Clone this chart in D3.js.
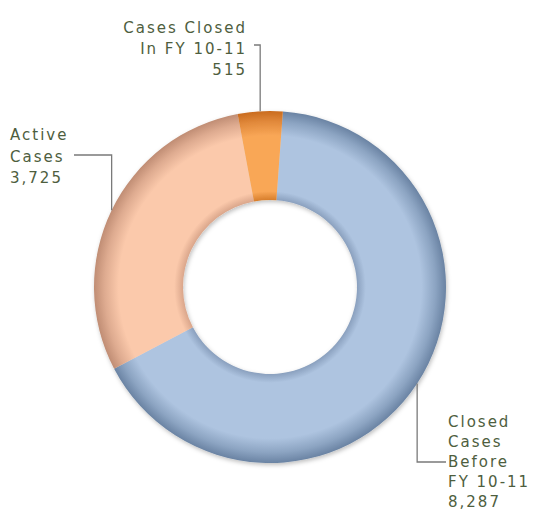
<!DOCTYPE html>
<html>
<head>
<meta charset="utf-8">
<script src="https://cdn.jsdelivr.net/npm/d3@7"></script>
<style>
  body { margin: 0; background: #fff; }
  text { font-family: "DejaVu Sans", Verdana, sans-serif; font-size: 15px; fill: #4e5e3e; letter-spacing: 2px; }
</style>
</head>
<body>
<script>
// data
var categories = ['Closed Cases Before FY 10-11', 'Active Cases', 'Cases Closed In FY 10-11'];
var values = [8287, 3725, 515];
var labelLines = [
  ['Closed', 'Cases', 'Before', 'FY 10-11', '8,287'],
  ['Active', 'Cases', '3,725'],
  ['Cases Closed', 'In FY 10-11', '515']
];
// colours: edge / middle
var colorsMid  = ['#aec4e0', '#fbc9ab', '#f9a757'];
var colorsEdge = ['#6a83a3', '#c08d74', '#c96b1e'];
var colorsIn   = ['#8aa0be', '#daa68b', '#d77e2c'];

var width = 538, height = 516,
    cx = 270, cy = 287,
    rOut = 176, rIn = 87;

var svg = d3.select('body').append('svg')
  .attr('width', width)
  .attr('height', height);

var defs = svg.append('defs');

// soft shadow
var f = defs.append('filter').attr('id', 'sh')
  .attr('x', '-20%').attr('y', '-20%').attr('width', '140%').attr('height', '140%');
f.append('feDropShadow').attr('dx', 1).attr('dy', 2).attr('stdDeviation', 2)
  .attr('flood-color', '#000').attr('flood-opacity', 0.25);

// bevel gradient per slice
var k = rIn / rOut;
colorsMid.forEach(function(c, i){
  var g = defs.append('radialGradient').attr('id', 'grad' + i)
    .attr('gradientUnits', 'userSpaceOnUse')
    .attr('cx', 0).attr('cy', 0).attr('r', rOut);
  g.append('stop').attr('offset', k).attr('stop-color', colorsIn[i]);
  g.append('stop').attr('offset', k + 0.05).attr('stop-color', c);
  g.append('stop').attr('offset', 0.86).attr('stop-color', c);
  g.append('stop').attr('offset', 0.94).attr('stop-color', d3.interpolateRgb(c, colorsEdge[i])(0.5));
  g.append('stop').attr('offset', 1).attr('stop-color', colorsEdge[i]);
});

var startA = 4.2 * Math.PI / 180;
var pie = d3.pie().sort(null).value(function(d){ return d; })
  .startAngle(startA).endAngle(startA + 2 * Math.PI);
var arcs = pie(values);

var arc = d3.arc().innerRadius(rIn).outerRadius(rOut);

var g = svg.append('g').attr('transform', 'translate(' + cx + ',' + cy + ')');
g.append('g').attr('filter', 'url(#sh)')
  .selectAll('path').data(arcs).enter().append('path')
  .attr('d', arc)
  .attr('fill', function(d, i){ return 'url(#grad' + i + ')'; });

// leader lines and labels
var labelPos = [
  {tx: 448, ty: 427, anchor: 'start', ly: 462, hx: 446, lh: 20},
  {tx: 10,  ty: 140, anchor: 'start', ly: 155, hx: 74,  lh: 21.5},
  {tx: 247, ty: 33,  anchor: 'end',   ly: 45,  hx: 254, lh: 21}
];

arcs.forEach(function(d, i){
  var a = (d.startAngle + d.endAngle) / 2;
  var px = cx + rOut * Math.sin(a), py = cy - rOut * Math.cos(a);
  var p = labelPos[i];
  svg.append('path')
    .attr('d', 'M' + px + ',' + py + 'L' + px + ',' + p.ly + 'L' + p.hx + ',' + p.ly)
    .attr('fill', 'none').attr('stroke', '#7a7a7a').attr('stroke-width', 1.3);
  var t = svg.append('text').attr('text-anchor', p.anchor);
  labelLines[i].forEach(function(s, j){
    t.append('tspan').attr('x', p.tx).attr('y', p.ty + j * p.lh).text(s);
  });
});
</script>
</body>
</html>
